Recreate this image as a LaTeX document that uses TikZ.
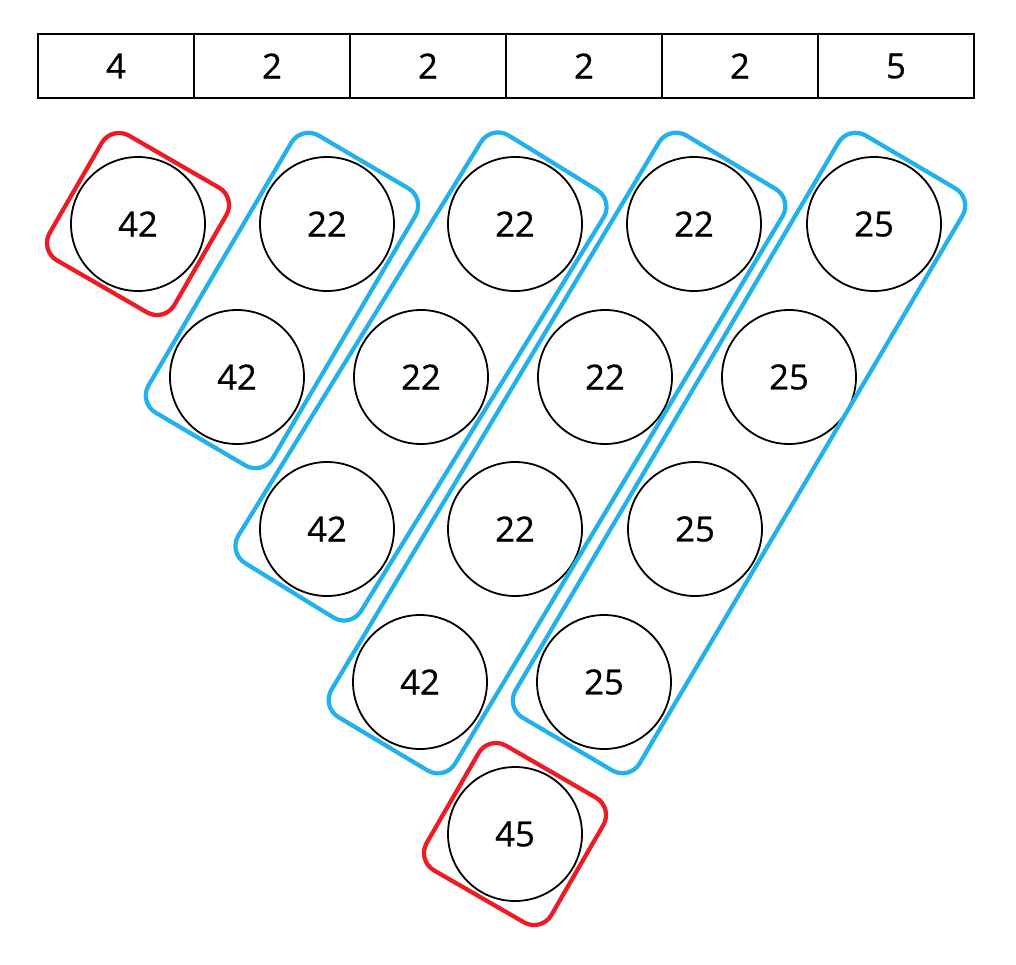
\documentclass[tikz,border=0pt]{standalone}
\usepackage{fontspec}
\setmainfont{Open Sans}
\newfontfamily\digfont{Open Sans}[FakeBold=0.7]
\usetikzlibrary{calc}
\definecolor{gblue}{RGB}{35,177,236}
\definecolor{gred}{RGB}{237,28,36}
\newcommand\grpbox[3]{%
  \coordinate (gp) at ($(#2.center)!-54pt!(#3.center)$);
  \coordinate (gq) at ($(#3.center)!-54pt!(#2.center)$);
  \draw[grp,#1] ($(gp)!54pt!90:(gq)$) -- ($(gp)!54pt!-90:(gq)$) -- ($(gq)!54pt!90:(gp)$) -- ($(gq)!54pt!-90:(gp)$) -- cycle;}
\begin{document}
\begin{tikzpicture}[x=0.75pt,y=-0.75pt,
  cell/.style={draw=black, line width=1.5pt, minimum width=117pt, minimum height=48pt, inner sep=0pt, font=\digfont\fontsize{26}{30}\selectfont},
  ball/.style={circle, draw=black, line width=1.35pt, minimum size=100.5pt, inner sep=0pt, font=\digfont\fontsize{26}{30}\selectfont},
  grp/.style={line width=3.2pt, rounded corners=15pt},
  sq/.style={draw, line width=3.2pt, rounded corners=15pt, minimum size=108pt, inner sep=0pt, rotate=-30}]
\useasboundingbox (0,0) rectangle (1016,964);
% table
\node[cell] (t1) at (116,66) {4};
\node[cell] (t2) at (272,66) {2};
\node[cell] (t3) at (428,66) {2};
\node[cell] (t4) at (584,66) {2};
\node[cell] (t5) at (740,66) {2};
\node[cell] (t6) at (896,66) {5};
% circles
\node[ball] (c11) at (138,224) {42};
\node[ball] (c12) at (327,224) {22};
\node[ball] (c13) at (515,224) {22};
\node[ball] (c14) at (694,224) {22};
\node[ball] (c15) at (874,224) {25};
\node[ball] (c21) at (237,377) {42};
\node[ball] (c22) at (421,377) {22};
\node[ball] (c23) at (605,377) {22};
\node[ball] (c24) at (789,377) {25};
\node[ball] (c31) at (327,529) {42};
\node[ball] (c32) at (515,529) {22};
\node[ball] (c33) at (695,529) {25};
\node[ball] (c41) at (420,682) {42};
\node[ball] (c42) at (604,682) {25};
\node[ball] (c51) at (515,834) {45};
% groups
\node[sq, draw=gred] (r1) at (c11) {};
\node[sq, draw=gred] (r2) at (c51) {};
\grpbox{gblue}{c12}{c21}
\grpbox{gblue}{c13}{c31}
\grpbox{gblue}{c14}{c41}
\grpbox{gblue}{c15}{c42}
\end{tikzpicture}
\end{document}
